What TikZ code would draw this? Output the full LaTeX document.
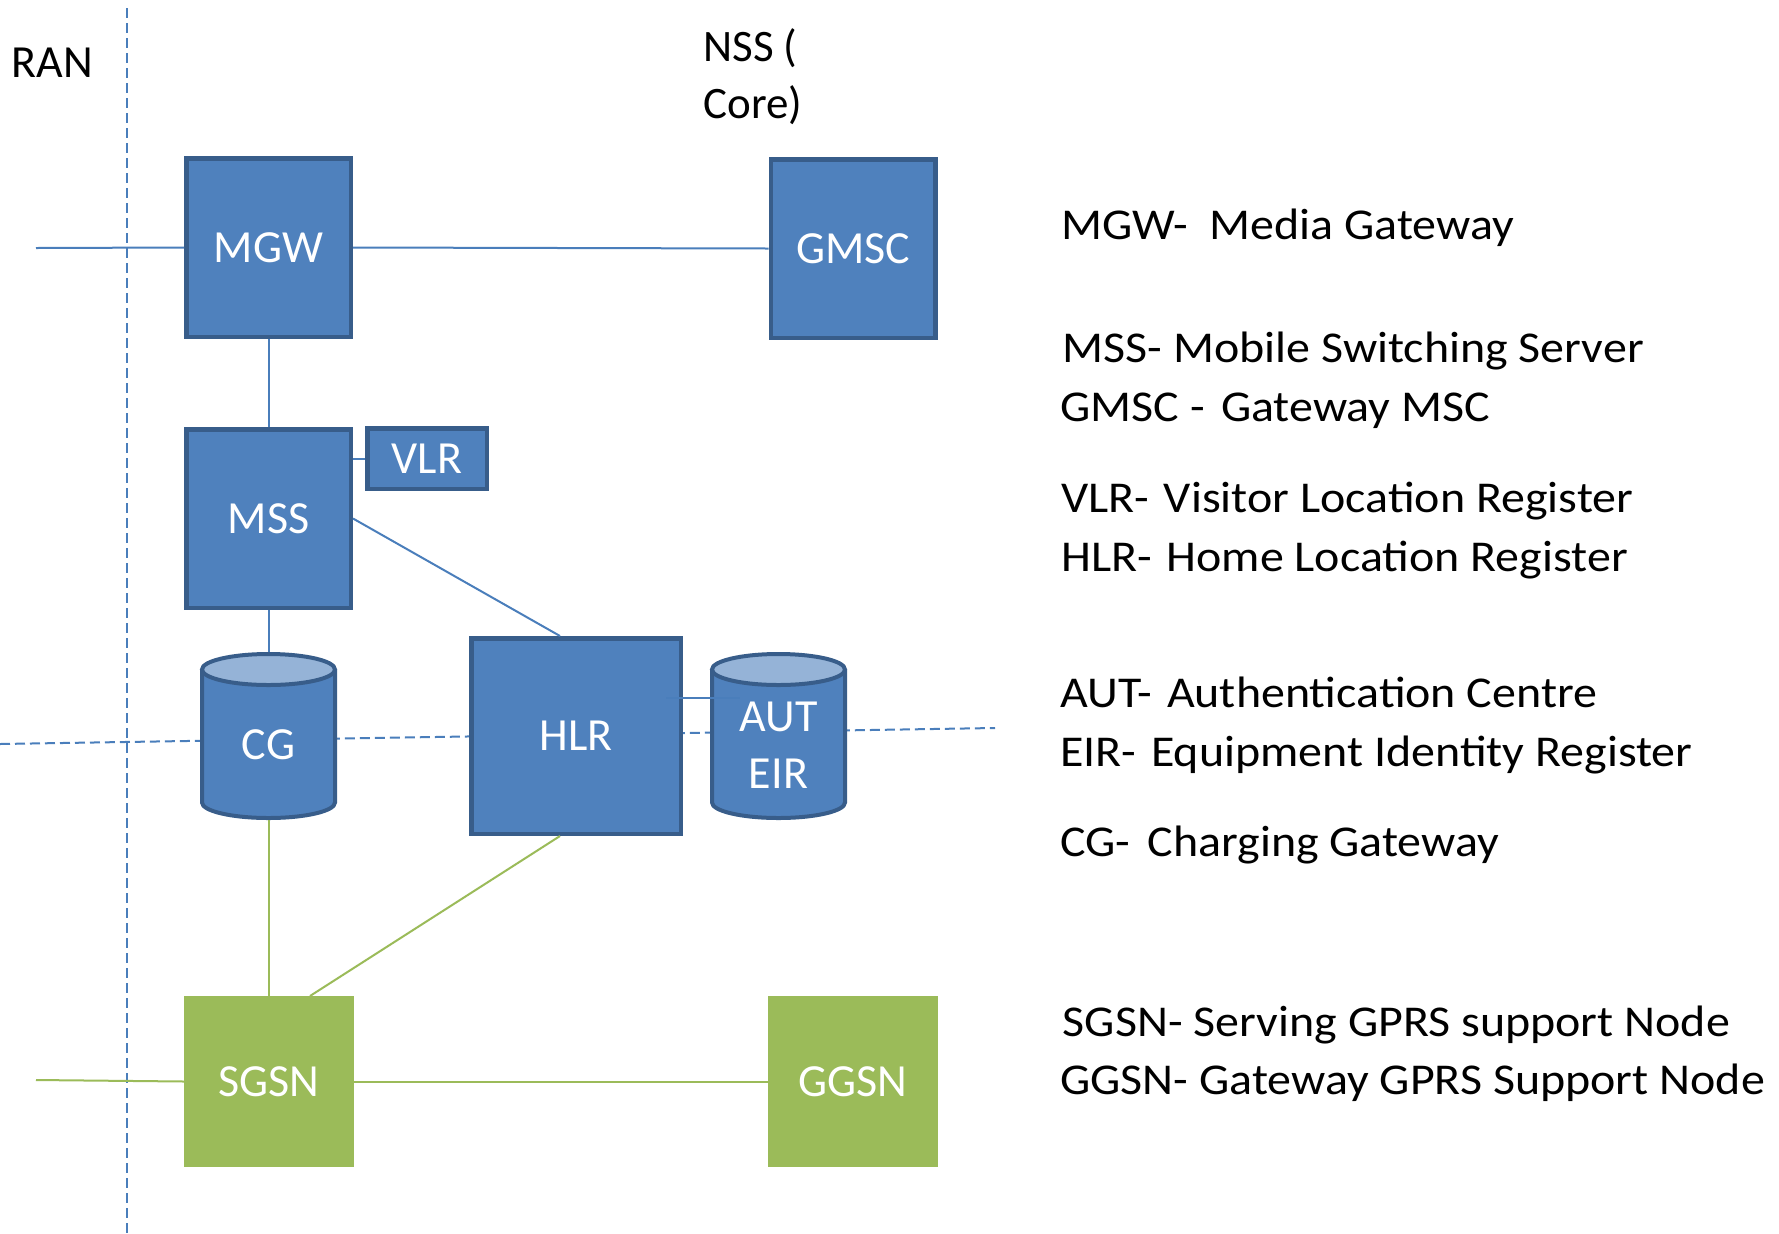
\documentclass[tikz,border=0pt]{standalone}
\usepackage{fontspec}
\setmainfont{Carlito}
\newfontfamily\legendfont{Carlito}[FakeStretch=1.09]
\usetikzlibrary{calc}
\definecolor{boxblue}{HTML}{4F81BD}
\definecolor{boxborder}{HTML}{385D8A}
\definecolor{toplight}{HTML}{95B3D7}
\definecolor{boxgreen}{HTML}{9BBB59}
\definecolor{linkblue}{HTML}{4A7EBB}
\newcommand\drawdbcyl[1]{%
  \fill[boxblue] ({#1-66.5},669.5) -- ({#1-66.5},802.5) arc[start angle=180,end angle=0,x radius=66.5,y radius=15.5] -- ({#1+66.5},669.5) -- cycle;
  \draw[draw=boxborder,line width=2pt] ({#1-66.5},669.5) -- ({#1-66.5},802.5) arc[start angle=180,end angle=0,x radius=66.5,y radius=15.5] -- ({#1+66.5},669.5);
  \filldraw[fill=toplight,draw=boxborder,line width=2pt] (#1,669.5) ellipse[x radius=66.5,y radius=15.5];
}
\begin{document}
\begin{tikzpicture}[x=0.5pt,y=-0.5pt,
  bluebox/.style={draw=boxborder,line width=2.25pt,fill=boxblue,text=white,
    font=\fontsize{23}{27}\selectfont,inner sep=0pt,minimum width=82.25pt,minimum height=89.25pt},
  greenbox/.style={draw=boxgreen,fill=boxgreen,line width=0.5pt,text=white,
    font=\fontsize{23}{27}\selectfont,inner sep=0pt,minimum width=84.5pt,minimum height=85pt},
  link/.style={draw=linkblue,line width=1pt},
  glink/.style={draw=boxgreen,line width=1pt},
  sepline/.style={draw=linkblue,line width=1pt,dash pattern=on 5pt off 2.5pt},
  legend/.style={anchor=base west,font=\legendfont\fontsize{22}{26}\selectfont,inner sep=0pt},
  region/.style={anchor=base west,inner sep=0pt},
  dbtext/.style={text=white,font=\fontsize{23}{27}\selectfont,inner sep=0pt},
  dbspan/.style={inner sep=0pt,minimum width=68.5pt,minimum height=84pt}]
\useasboundingbox (0,0) rectangle (1779,1233);

% separators
\coordinate (vtop) at (127,8);
\coordinate (vbot) at (127,1233);
\coordinate (hleft) at (0,744);
\coordinate (hright) at (995,728);
\draw[sepline] (vtop) -- (vbot);
\draw[sepline] (hleft) -- (hright);

% region labels
\node[region,font=\fontsize{23}{27}\selectfont] (ran) at (11,77) {RAN};
\node[region,font=\fontsize{22.5}{27}\selectfont] (nss) at (703,61) {NSS (};
\node[region,font=\fontsize{22.5}{27}\selectfont] (core) at (703,118.5) {Core)};

% boxes
\node[bluebox] (mgw) at (268.5,247.5) {MGW};
\node[bluebox] (gmsc) at (853,248.5) {GMSC};
\node[bluebox] (mss) at (268.5,518.5) {MSS};
\node[bluebox,minimum width=59.75pt,minimum height=30.25pt] (vlr) at (427,458.5) {VLR};
\node[bluebox,minimum width=104.75pt,minimum height=97.75pt] (hlr) at (576,736) {HLR};
\node[greenbox] (sgsn) at (269,1081.5) {SGSN};
\node[greenbox] (ggsn) at (853,1081.5) {GGSN};

% cylinders
\drawdbcyl{268.5}
\drawdbcyl{778.5}
\node[dbspan] (cg) at (268.5,736) {};
\node[dbspan] (aut) at (778.5,736) {};
\node[dbtext] (cgt) at (268.5,745) {CG};
\node[dbtext] (autt) at (778.5,717) {AUT};
\node[dbtext] (eirt) at (778.5,774) {EIR};

% connectors
\coordinate (inL) at (36,248);
\coordinate (inG) at (36,1080);
\draw[link] (inL) -- (mgw.west);
\draw[link] (mgw.east) -- (gmsc.west);
\draw[link] (mgw.south) -- (mss.north);
\draw[link] (mss.east |- vlr.west) -- (vlr.west);
\draw[link] (mss.east) -- ([xshift=-8pt]hlr.north);
\draw[link] (mss.south) -- (cg.north);
\draw[link] ($(hlr.east)+(-17,-38)$) -- ($(aut.west)+(30,-38)$);
\draw[glink] (cg.south) -- (cg.south |- sgsn.north);
\draw[glink] ([xshift=-8pt]hlr.south) -- ([xshift=20.5pt]sgsn.north);
\draw[glink] (inG) -- (sgsn.west);
\draw[glink] (sgsn.east) -- (ggsn.west);

% legend
\node[legend] (l1) at (1061,239) {MGW-\ \ Media Gateway};
\node[legend] (l2) at (1062.5,362) {MSS- Mobile Switching Server};
\node[legend] (l3) at (1060,421) {GMSC -\hspace{0.37em}Gateway MSC};
\node[legend] (l4) at (1061,512) {VLR-\hspace{0.33em}Visitor Location Register};
\node[legend] (l5) at (1061,571.5) {HLR-\hspace{0.33em}Home Location Register};
\node[legend] (l6) at (1060,707) {AUT-\hspace{0.33em}Authentication Centre};
\node[legend] (l7) at (1060,766) {EIR-\hspace{0.33em}Equipment Identity Register};
\node[legend] (l8) at (1060,856.5) {CG-\hspace{0.39em}Charging Gateway};
\node[legend] (l9) at (1062.5,1036) {SGSN- Serving GPRS support Node};
\node[legend] (l10) at (1060,1094.5) {GGSN- Gateway GPRS Support Node};
\end{tikzpicture}
\end{document}
